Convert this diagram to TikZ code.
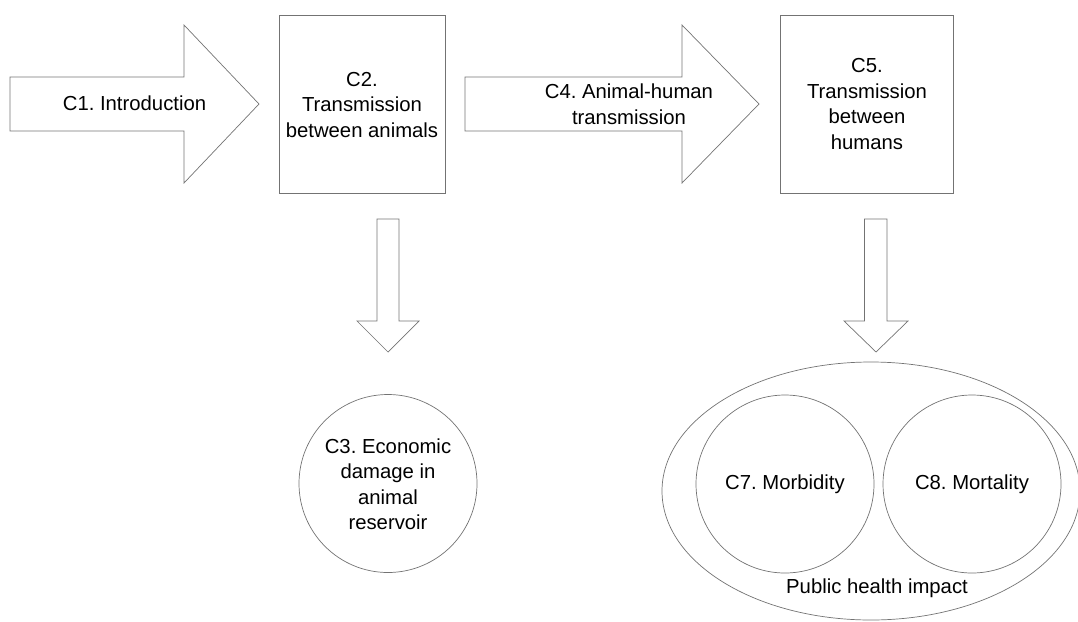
\documentclass[tikz,border=0pt]{standalone}
\usepackage{fontspec}
\setmainfont{Liberation Sans}
\usetikzlibrary{shapes.geometric}
\frenchspacing
\begin{document}
\begin{tikzpicture}[x=1pt,y=-1pt,
  shapeline/.style={draw=black!55,line width=0.7pt,line join=miter},
  lbl/.style={align=center,font=\fontsize{20.3}{25.5}\selectfont\frenchspacing,inner sep=0pt},
  boxnode/.style={shapeline,rectangle,minimum width=166pt,minimum height=178pt,inner sep=0pt},
  circnode/.style={shapeline,circle,minimum size=178pt,inner sep=0pt}]
\useasboundingbox (0,0) rectangle (1078,621);
% C1 arrow
\draw[shapeline] (10,77) -- (184,77) -- (184,25) -- (259,104) -- (184,183) -- (184,131) -- (10,131) -- cycle;
\node[lbl] (c1) at (134.5,103.5) {C1. Introduction};
% C2 box
\node[boxnode] (c2) at (362,104) {};
\node[lbl] (c2t) at (362,105) {C2.\\Transmission\\between animals};
% C4 arrow
\draw[shapeline] (465,77) -- (682,77) -- (682,25) -- (759,104) -- (682,183) -- (682,131) -- (465,131) -- cycle;
\node[lbl] (c4) at (629,104) {C4. Animal-human\\transmission};
% C5 box
\node[boxnode,minimum width=173pt] (c5) at (866.5,104) {};
\node[lbl] (c5t) at (867,104) {C5.\\Transmission\\between\\humans};
% down arrows
\coordinate (d1) at (388,352);
\draw[shapeline] (377,219) -- (399,219) -- (399,321) -- (419,321) -- (d1) -- (357,321) -- (377,321) -- cycle;
\coordinate (d2) at (876,352);
\draw[shapeline] (864.5,219) -- (887,219) -- (887,321) -- (908,321) -- (d2) -- (844,321) -- (864.5,321) -- cycle;
% C3
\node[circnode] (c3) at (388,483.5) {};
\node[lbl] (c3t) at (388,484) {C3. Economic\\damage in\\animal\\reservoir};
% public health ellipse
\node[shapeline,ellipse,minimum width=418pt,minimum height=258pt,inner sep=0pt] (ph) at (871,491) {};
\node[circnode] (c7) at (785,484) {};
\node[lbl] at (c7) {C7. Morbidity};
\node[circnode] (c8) at (972,484) {};
\node[lbl] at (c8) {C8. Mortality};
\node[lbl] (pht) at (877,588) {Public health impact};
\end{tikzpicture}
\end{document}
